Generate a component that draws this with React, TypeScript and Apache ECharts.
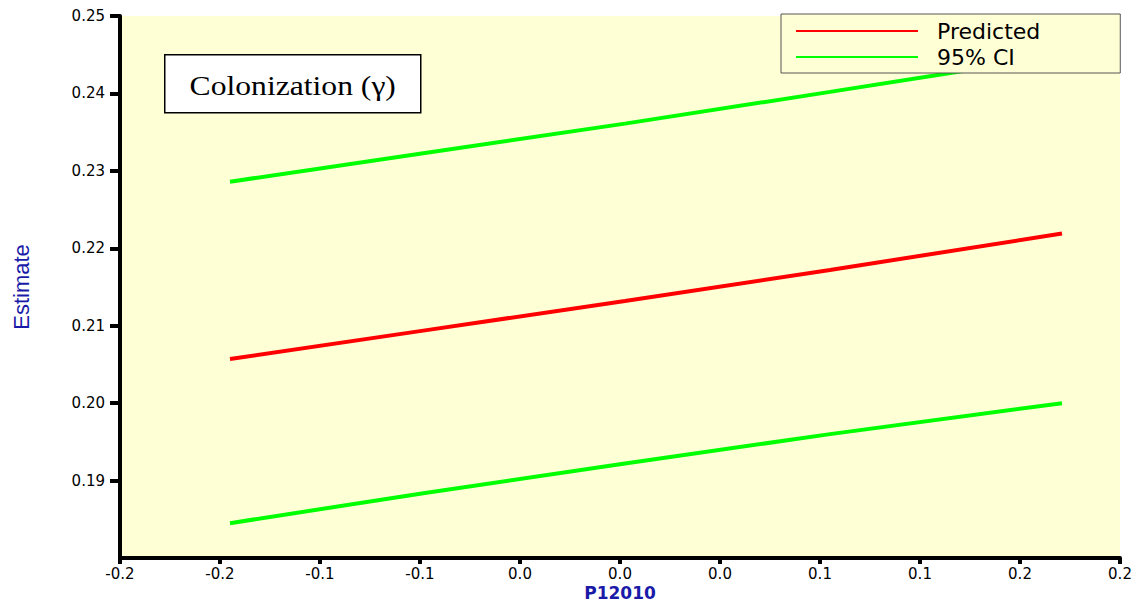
import React, { useEffect, useRef } from "react";
import * as echarts from "echarts";

const xValues = [-0.195, -0.0975, 0.0025, 0.105, 0.221];
const predicted = [0.2057, 0.2094, 0.2132, 0.2172, 0.2219];
const upperCI = [0.2286, 0.2323, 0.2361, 0.2402, 0.2449];
const lowerCI = [0.1845, 0.1884, 0.1922, 0.196, 0.2];
const xTickLabels = ["-0.2", "-0.2", "-0.1", "-0.1", "0.0", "0.0", "0.0", "0.1", "0.1", "0.2", "0.2"];
const X_MIN = -0.25;
const X_MAX = 0.25;
const X_STEP = 0.05;
const Y_MIN = 0.18;
const Y_MAX = 0.25;
const Y_STEP = 0.01;
const titleText = "Colonization (\u03b3)";

const pairs = (ys: number[]) => xValues.map((x, i) => [x, ys[i]]);

export default function App() {
  const ref = useRef<HTMLDivElement>(null);
  useEffect(() => {
    if (!ref.current) return;
    const chart = echarts.init(ref.current, undefined, { renderer: "svg" });
    const tickFont = { fontFamily: "DejaVu Sans", fontSize: 15, color: "#000" };
    chart.setOption({
      animation: false,
      backgroundColor: "#ffffff",
      grid: {
        left: 120,
        right: 26,
        top: 16,
        bottom: 45,
        show: true,
        backgroundColor: "#FFFFD6",
        borderWidth: 0,
        outerBoundsMode: "none",
        containLabel: false,
      },
      legend: {
        left: 781,
        top: 14,
        orient: "vertical",
        itemWidth: 122,
        itemHeight: 2,
        itemGap: 4,
        padding: [6, 80, 5, 15],
        backgroundColor: "#FFFFD6",
        borderColor: "#555",
        borderWidth: 1,
        borderRadius: 0,
        icon: "rect",
        data: ["Predicted", "95% CI"],
        textStyle: {
          fontFamily: "DejaVu Sans",
          fontSize: 22,
          lineHeight: 22,
          color: "#000",
          padding: [0, 0, 0, 14],
        },
      },
      xAxis: {
        type: "value",
        min: X_MIN,
        max: X_MAX,
        interval: X_STEP,
        name: "P12010",
        nameLocation: "middle",
        nameGap: 26,
        nameMoveOverlap: false,
        nameTextStyle: { fontFamily: "DejaVu Sans", fontWeight: "bold", fontSize: 17, lineHeight: 17, color: "#1a1aa8" },
        axisLine: { onZero: false, lineStyle: { color: "#000", width: 4 } },
        axisTick: { length: 6, lineStyle: { color: "#000", width: 4 } },
        axisLabel: {
          ...tickFont,
          margin: 8,
          showMinLabel: true,
          showMaxLabel: true,
          formatter: (v: number) => xTickLabels[Math.round((v - X_MIN) / X_STEP)] ?? "",
        },
        splitLine: { show: false },
      },
      yAxis: {
        type: "value",
        min: Y_MIN,
        max: Y_MAX,
        interval: Y_STEP,
        name: "Estimate",
        nameLocation: "middle",
        nameGap: 88,
        nameMoveOverlap: false,
        nameTextStyle: { fontFamily: "Liberation Sans", fontSize: 22, color: "#1a1aa8" },
        axisLine: { onZero: false, lineStyle: { color: "#000", width: 4 } },
        axisTick: { length: 10, lineStyle: { color: "#000", width: 4 } },
        axisLabel: {
          ...tickFont,
          margin: 15,
          showMinLabel: false,
          formatter: (v: number) => v.toFixed(2),
        },
        splitLine: { show: false },
      },
      graphic: [
        {
          type: "group",
          left: 164,
          top: 54,
          children: [
            {
              type: "rect",
              shape: { x: 0, y: 0, width: 256, height: 58 },
              style: { fill: "#ffffff", stroke: "#000", lineWidth: 1.5 },
            },
            {
              type: "text",
              x: 128,
              y: 30,
              scaleX: 1.13,
              style: {
                text: titleText,
                fontFamily: "Liberation Serif",
                fontSize: 28,
                fill: "#000",
                align: "center",
                verticalAlign: "middle",
              },
            },
          ],
        },
      ],
      series: [
        {
          name: "Predicted",
          type: "line",
          data: pairs(predicted),
          showSymbol: false,
          symbol: "none",
          lineStyle: { color: "#FF0000", width: 4 },
          itemStyle: { color: "#FF0000" },
          z: 2,
        },
        {
          name: "95% CI",
          type: "line",
          data: pairs(upperCI),
          showSymbol: false,
          symbol: "none",
          lineStyle: { color: "#00FF00", width: 4 },
          itemStyle: { color: "#00FF00" },
          z: 2,
        },
        {
          name: "95% CI",
          type: "line",
          data: pairs(lowerCI),
          showSymbol: false,
          symbol: "none",
          lineStyle: { color: "#00FF00", width: 4 },
          itemStyle: { color: "#00FF00" },
          z: 2,
        },
      ],
    });
    return () => chart.dispose();
  }, []);
  return (
    <div
      ref={ref}
      style={{ position: "fixed", left: 0, top: 0, width: 1146, height: 603 }}
    />
  );
}
